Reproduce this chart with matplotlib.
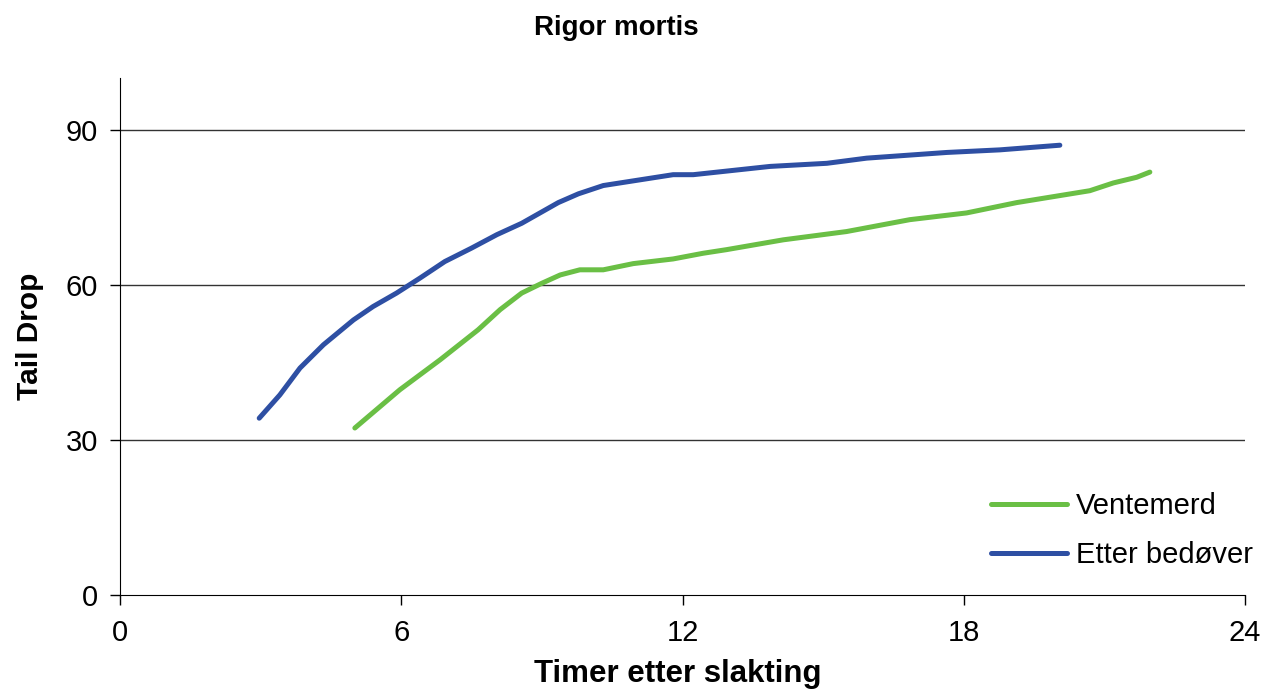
import matplotlib
matplotlib.use("Agg")
import matplotlib.pyplot as plt

plt.rcParams['font.family'] = ['Liberation Sans', 'DejaVu Sans']

title = "Rigor mortis"
xlabel = "Timer etter slakting"
ylabel = "Tail Drop"

vent_x = [5.01, 5.97, 6.83, 7.64, 8.11, 8.57, 9.0, 9.39, 9.81, 10.31, 10.95, 11.80,
          12.44, 12.94, 14.15, 15.50, 16.85, 18.06, 19.13, 20.69, 21.19, 21.69, 21.97]
vent_y = [32.3, 39.7, 45.5, 51.3, 55.2, 58.4, 60.3, 61.9, 62.9, 62.9, 64.1, 65.0,
          66.1, 66.8, 68.7, 70.3, 72.6, 73.9, 75.9, 78.2, 79.7, 80.8, 81.8]

etter_x = [2.97, 3.41, 3.84, 4.34, 4.98, 5.40, 5.90, 6.40, 6.93, 7.50, 8.04, 8.57,
           9.35, 9.78, 10.31, 11.09, 11.80, 12.23, 13.87, 15.08, 15.93, 17.64, 18.77, 20.05]
etter_y = [34.2, 38.7, 43.9, 48.4, 53.2, 55.8, 58.4, 61.3, 64.5, 67.1, 69.7, 71.9,
           75.9, 77.6, 79.2, 80.3, 81.3, 81.3, 82.9, 83.5, 84.5, 85.6, 86.1, 87.0]

series_names = ["Ventemerd", "Etter bedøver"]
colors = ["#6abf45", "#2e4fa3"]

xticks = [0, 6, 12, 18, 24]
yticks = [0, 30, 60, 90]

fig = plt.figure(figsize=(12.63, 6.93), dpi=100)
ax = fig.add_axes([120/1263, 1-595/693, 1125/1263, (595-78)/693])

ax.plot(vent_x, vent_y, color=colors[0], lw=3.6, solid_capstyle='round', label=series_names[0], zorder=3)
ax.plot(etter_x, etter_y, color=colors[1], lw=3.6, solid_capstyle='round', label=series_names[1], zorder=3)

ax.set_xlim(0, 24)
ax.set_ylim(0, 100)
ax.set_xticks(xticks)
ax.set_yticks(yticks)
ax.tick_params(axis='both', direction='out', length=7, width=1, labelsize=21, color='black')
ax.tick_params(axis='x', pad=10)
ax.tick_params(axis='y', pad=9)
for y in yticks[1:]:
    ax.axhline(y, color='#333333', lw=1, zorder=1)
ax.spines['top'].set_visible(False)
ax.spines['right'].set_visible(False)
ax.spines['left'].set_color('black')
ax.spines['bottom'].set_color('black')

fig.text(616/1263, 1-35/693, title, ha='center', va='baseline', fontsize=20, fontweight='bold')
ax.set_xlabel(xlabel, fontsize=22.5, fontweight='bold')
ax.xaxis.set_label_coords(0.496, -0.124)
ax.set_ylabel(ylabel, fontsize=21.5, fontweight='bold')
ax.yaxis.set_label_coords(-0.068, 0.5)

leg = ax.legend(loc='lower right', bbox_to_anchor=(1.03, 0.0), frameon=False, fontsize=21,
                handlelength=2.6, labelspacing=0.72, handletextpad=0.3)

fig.savefig("out.png", dpi=100)
